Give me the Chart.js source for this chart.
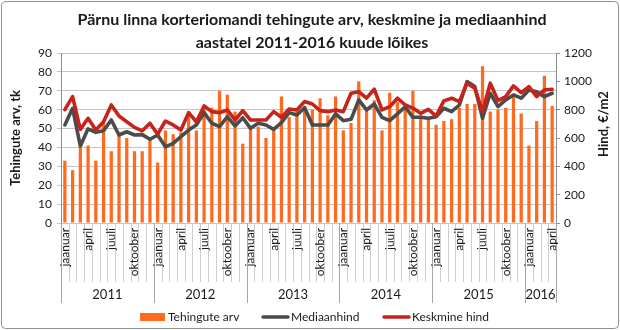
<!DOCTYPE html>
<html>
<head>
<meta charset="utf-8">
<script src="https://cdn.jsdelivr.net/npm/chart.js@4/dist/chart.umd.min.js"></script>
<style>
  html, body { margin: 0; padding: 0; background: #ffffff; }
  #wrap { width: 620px; height: 330px; position: relative; }
</style>
</head>
<body>
<div id="wrap"><canvas id="chart" width="620" height="330"></canvas></div>
<script>
// Months shown on the axis, years of the period
const monthNames = ['jaanuar', 'veebruar', 'märts', 'april', 'mai', 'juuni',
  'juuli', 'august', 'september', 'oktoober', 'november', 'detsember'];
const years = ['2011', '2012', '2013', '2014', '2015', '2016'];
const monthsInLastYear = 4;

// Number of transactions per month (left axis)
const dealCount = [
  33, 28, 40, 41, 33, 54, 38, 48, 45, 38, 38, 44,
  32, 49, 47, 48, 59, 49, 62, 61, 70, 68, 59, 42,
  50, 51, 45, 49, 67, 56, 59, 62, 60, 66, 57, 67,
  49, 53, 75, 60, 65, 49, 69, 64, 61, 70, 57, 56,
  52, 54, 55, 61, 63, 63, 83, 59, 60, 61, 67, 58,
  41, 54, 78, 62
];

// Median price, €/m2 (right axis)
const medianPrice = [
  692, 810, 543, 665, 640, 651, 727, 621, 644, 621, 624, 591,
  621, 538, 562, 609, 656, 692, 779, 704, 680, 750, 685, 743,
  668, 704, 692, 661, 708, 779, 762, 814, 692, 692, 692, 770,
  722, 732, 869, 798, 840, 746, 722, 770, 821, 746, 746, 739,
  750, 810, 786, 833, 998, 963, 739, 916, 821, 869, 904, 881,
  939, 927, 892, 916
];

// Average price, €/m2 (right axis)
const meanPrice = [
  800, 892, 661, 739, 656, 715, 833, 755, 715, 675, 651, 704,
  627, 720, 692, 656, 779, 715, 826, 786, 779, 798, 727, 793,
  727, 727, 727, 786, 746, 805, 798, 857, 840, 793, 786, 798,
  786, 916, 927, 881, 945, 798, 821, 881, 833, 811, 774, 802,
  755, 862, 881, 857, 987, 951, 786, 987, 864, 892, 968, 920,
  963, 892, 939, 944
];

const leftTicks = { min: 0, max: 90, step: 10 };
const rightTicks = { min: 0, max: 1200, step: 200 };

const titleLines = ['Pärnu linna korteriomandi tehingute arv, keskmine ja mediaanhind',
  'aastatel 2011-2016 kuude lõikes'];
const leftTitle = 'Tehingute arv, tk';
const rightTitle = 'Hind, €/m2';
const seriesNames = ['Tehingute arv', 'Mediaanhind', 'Keskmine hind'];

// One category per month
const categories = [];
years.forEach((y, yi) => {
  const n = yi === years.length - 1 ? monthsInLastYear : 12;
  for (let m = 0; m < n; m++) categories.push(monthNames[m] + ' ' + y);
});

const FONT = 'Lato, "Liberation Sans", sans-serif';
const TEXT = '#1a1a1a';
const ORANGE = '#ff6a1f';
const GREY_LINE = '#4b4b4b';
const RED_LINE = '#c6231b';
const GRID = '#c4c4c4';
const AXIS = '#8c8c8c';

const decor = {
  id: 'decor',
  afterDraw(chart) {
    const ctx = chart.ctx;
    const xs = chart.scales.x;
    const area = chart.chartArea;
    const n = categories.length;
    ctx.save();

    // title
    ctx.fillStyle = TEXT;
    ctx.textAlign = 'center';
    ctx.textBaseline = 'middle';
    ctx.font = 'bold 16px ' + FONT;
    ctx.fillText(titleLines[0], 312, 20);
    ctx.fillText(titleLines[1], 312, 43);

    // axis titles
    ctx.font = 'bold 13px ' + FONT;
    ctx.save();
    ctx.translate(16, (area.top + area.bottom) / 2);
    ctx.rotate(-Math.PI / 2);
    ctx.fillText(leftTitle, 0, 0);
    ctx.restore();
    ctx.save();
    ctx.translate(604, (area.top + area.bottom) / 2 - 14);
    ctx.rotate(-Math.PI / 2);
    ctx.fillText(rightTitle, 0, 0);
    ctx.restore();

    // category boundaries below the axis
    const boundary = i => {
      if (i <= 0) return area.left;
      if (i >= n) return area.right;
      return (xs.getPixelForValue(i - 1) + xs.getPixelForValue(i)) / 2;
    };
    ctx.lineWidth = 1;
    for (let i = 0; i <= n; i++) {
      const isYear = i % 12 === 0 || i === n;
      const x = Math.round(boundary(i)) + 0.5;
      ctx.strokeStyle = isYear ? '#a6a6a6' : '#cfcfcf';
      ctx.beginPath();
      ctx.moveTo(x, area.bottom);
      ctx.lineTo(x, isYear ? 303 : 282);
      ctx.stroke();
    }

    // month labels (every third month)
    ctx.fillStyle = TEXT;
    ctx.font = '12px ' + FONT;
    ctx.textAlign = 'right';
    ctx.textBaseline = 'middle';
    for (let i = 0; i < n; i++) {
      if (i % 3 !== 0) continue;
      const x = xs.getPixelForValue(i);
      ctx.save();
      ctx.translate(x, area.bottom + 5);
      ctx.rotate(-Math.PI / 2);
      ctx.fillText(monthNames[i % 12], 0, 0);
      ctx.restore();
    }

    // year labels
    ctx.font = '13px ' + FONT;
    ctx.textAlign = 'center';
    years.forEach((y, yi) => {
      const a = yi * 12;
      const b = Math.min(n, a + 12);
      ctx.fillText(y, (boundary(a) + boundary(b)) / 2, 295);
    });

    // legend
    const ly = 317;
    ctx.font = '12px ' + FONT;
    ctx.textAlign = 'left';
    ctx.fillStyle = ORANGE;
    ctx.fillRect(140, 313, 25, 8);
    ctx.fillStyle = TEXT;
    ctx.fillText(seriesNames[0], 168, ly);
    ctx.lineCap = 'round';
    ctx.lineWidth = 3.5;
    ctx.strokeStyle = GREY_LINE;
    ctx.beginPath(); ctx.moveTo(263, ly); ctx.lineTo(288, ly); ctx.stroke();
    ctx.fillText(seriesNames[1], 291, ly);
    ctx.strokeStyle = RED_LINE;
    ctx.beginPath(); ctx.moveTo(384, ly); ctx.lineTo(409, ly); ctx.stroke();
    ctx.fillText(seriesNames[2], 412, ly);

    // outer frame
    ctx.lineWidth = 1;
    ctx.strokeStyle = '#8e8e8e';
    ctx.beginPath();
    if (ctx.roundRect) ctx.roundRect(1.5, 1.5, 617, 327, 4); else ctx.rect(1.5, 1.5, 617, 327);
    ctx.stroke();
    ctx.restore();
  }
};

new Chart(document.getElementById('chart'), {
  data: {
    labels: categories,
    datasets: [
      {
        type: 'line', label: seriesNames[2], data: meanPrice, yAxisID: 'y1',
        borderColor: RED_LINE, borderWidth: 3.6, pointRadius: 0, tension: 0, order: 0,
        borderJoinStyle: 'round', borderCapStyle: 'round'
      },
      {
        type: 'line', label: seriesNames[1], data: medianPrice, yAxisID: 'y1',
        borderColor: GREY_LINE, borderWidth: 3.6, pointRadius: 0, tension: 0, order: 1,
        borderJoinStyle: 'round', borderCapStyle: 'round'
      },
      {
        type: 'bar', label: seriesNames[0], data: dealCount, yAxisID: 'y',
        backgroundColor: ORANGE, borderWidth: 0, order: 2,
        categoryPercentage: 1, barPercentage: 0.42
      }
    ]
  },
  options: {
    responsive: false,
    animation: false,
    devicePixelRatio: 1,
    layout: { padding: { left: 0, right: 0, top: 53, bottom: 107 } },
    plugins: { legend: { display: false }, title: { display: false }, tooltip: { enabled: false } },
    scales: {
      x: { type: 'category', display: false, offset: true },
      y: {
        position: 'left', min: leftTicks.min, max: leftTicks.max,
        afterFit: s => { s.width = 61; },
        ticks: { stepSize: leftTicks.step, color: TEXT, font: { family: FONT, size: 12 }, padding: 5 },
        grid: { color: GRID, lineWidth: 1, tickLength: 4, drawTicks: true },
        border: { color: AXIS, width: 1 }
      },
      y1: {
        position: 'right', min: rightTicks.min, max: rightTicks.max,
        afterFit: s => { s.width = 64; },
        ticks: {
          stepSize: rightTicks.step, color: TEXT, font: { family: FONT, size: 12 }, padding: 4,
          callback: v => String(v)
        },
        grid: { drawOnChartArea: false, color: AXIS, tickLength: 4 },
        border: { color: AXIS, width: 1 }
      }
    }
  },
  plugins: [decor]
});
</script>
</body>
</html>
